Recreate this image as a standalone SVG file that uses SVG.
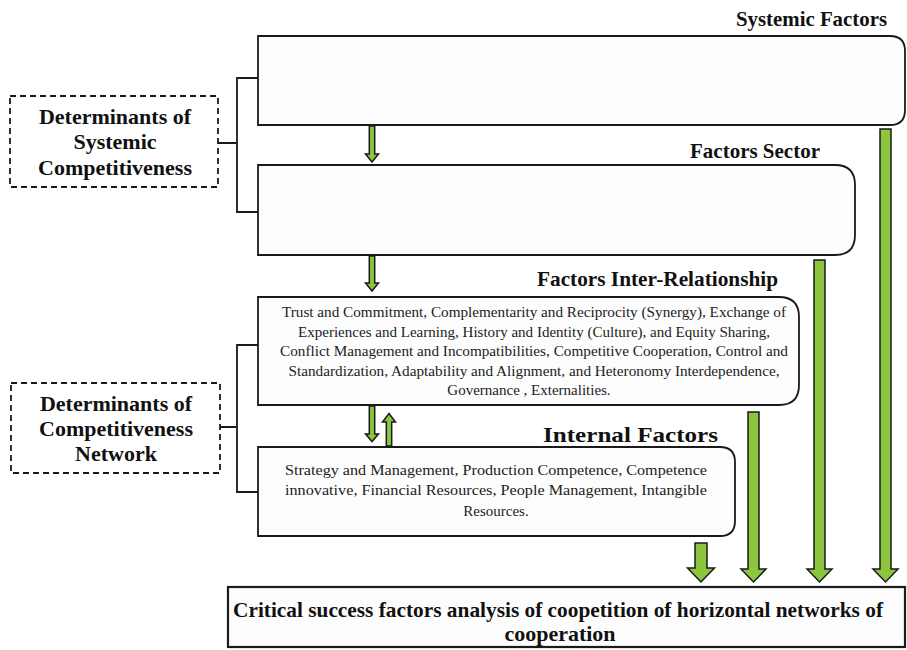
<svg xmlns="http://www.w3.org/2000/svg" width="907" height="650" viewBox="0 0 907 650">
<style>
.box{fill:#fdfdfd;stroke:#1a1a1a;stroke-width:1.8}
.dash{fill:#fff;stroke:#1a1a1a;stroke-width:1.8;stroke-dasharray:6 4}
.ln{fill:none;stroke:#1a1a1a;stroke-width:1.8}
.arr{fill:#8cc63f;stroke:#1a1a1a;stroke-width:1.5;stroke-linejoin:miter}
.h{font-family:"Liberation Serif","Times New Roman",serif;font-weight:bold;fill:#111}
.t{font-family:"Liberation Serif","Times New Roman",serif;font-size:15px;fill:#222;text-anchor:middle}
</style>
<rect width="907" height="650" fill="#fff"/>
<g id="systemic-factors">
<path class="box" d="M258,36 H890 Q905,36 905,51 V110 Q905,125 890,125 H258 Z"/>
<text class="h" x="736" y="26" font-size="21" textLength="151" lengthAdjust="spacingAndGlyphs">Systemic Factors</text>
</g>
<g id="factors-sector">
<path class="box" d="M258,165 H835 Q855,165 855,185 V235 Q855,255 835,255 H258 Z"/>
<text class="h" x="690" y="158" font-size="21" textLength="130" lengthAdjust="spacingAndGlyphs">Factors Sector</text>
</g>
<g id="factors-inter-relationship">
<path class="box" d="M258,297 H779 Q799,297 799,317 V385 Q799,405 779,405 H258 Z"/>
<text class="h" x="537" y="286" font-size="21" textLength="241" lengthAdjust="spacingAndGlyphs">Factors Inter-Relationship</text>
<text class="t" x="534" y="317" textLength="504" lengthAdjust="spacingAndGlyphs">Trust and Commitment, Complementarity and Reciprocity (Synergy), Exchange of</text>
<text class="t" x="534" y="336.5" textLength="472" lengthAdjust="spacingAndGlyphs">Experiences and Learning, History and Identity (Culture), and Equity Sharing,</text>
<text class="t" x="534" y="356" textLength="508" lengthAdjust="spacingAndGlyphs">Conflict Management and Incompatibilities, Competitive Cooperation, Control and</text>
<text class="t" x="534" y="375.5" textLength="491" lengthAdjust="spacingAndGlyphs">Standardization, Adaptability and Alignment, and Heteronomy Interdependence,</text>
<text class="t" x="529" y="395">Governance , Externalities.</text>
</g>
<g id="internal-factors">
<path class="box" d="M258,447 H720 Q735,447 735,462 V521 Q735,536 720,536 H258 Z"/>
<text class="h" x="543" y="442" font-size="22" textLength="175" lengthAdjust="spacingAndGlyphs">Internal Factors</text>
<text class="t" x="496" y="475" textLength="422" lengthAdjust="spacingAndGlyphs">Strategy and Management, Production Competence, Competence</text>
<text class="t" x="496" y="495" textLength="422" lengthAdjust="spacingAndGlyphs">innovative, Financial Resources, People Management, Intangible</text>
<text class="t" x="496" y="516">Resources.</text>
</g>
<g id="determinants-systemic">
<rect class="dash" x="10" y="96" width="208" height="91"/>
<text class="h" font-size="22" text-anchor="middle"><tspan x="115" y="124">Determinants of</tspan><tspan x="115" y="149">Systemic</tspan><tspan x="115" y="175">Competitiveness</tspan></text>
</g>
<g id="determinants-network">
<rect class="dash" x="11" y="383" width="209" height="90"/>
<text class="h" font-size="22" text-anchor="middle"><tspan x="116" y="411">Determinants of</tspan><tspan x="116" y="436">Competitiveness</tspan><tspan x="116" y="461">Network</tspan></text>
</g>
<g id="critical-success">
<rect x="228" y="587" width="677" height="60" fill="#fdfdfd" stroke="#1a1a1a" stroke-width="2.2"/>
<text class="h" x="558" y="617" font-size="22" text-anchor="middle" textLength="650" lengthAdjust="spacingAndGlyphs">Critical success factors analysis of coopetition of horizontal networks of</text>
<text class="h" x="560" y="641" font-size="22" text-anchor="middle">cooperation</text>
</g>
<g id="connectors">
<path class="ln" d="M258,78 H237 V212 H258 M218,143 H237"/>
<path class="ln" d="M258,345 H237 V492 H258 M220,427 H237"/>
<polygon class="arr" points="369.3,126 374.7,126 374.7,154 378.5,154 372,162 365.5,154 369.3,154"/>
<polygon class="arr" points="369.3,256 374.7,256 374.7,283 378.5,283 372,291 365.5,283 369.3,283"/>
<polygon class="arr" points="369.3,406 374.7,406 374.7,434 378.5,434 372,441.5 365.5,434 369.3,434"/>
<polygon class="arr" points="386.3,446 391.7,446 391.7,422 395.5,422 389,413.5 382.5,422 386.3,422"/>
<polygon class="arr" points="695,543 707,543 707,568 714.5,568 701,582 687.5,568 695,568"/>
<polygon class="arr" points="748,412 759,412 759,569 766,569 753.5,582 741,569 748,569"/>
<polygon class="arr" points="814,260 825,260 825,569 832,569 819.5,582 807,569 814,569"/>
<polygon class="arr" points="880,129 891,129 891,569 898,569 885.5,582 873,569 880,569"/>
</g>
</svg>
